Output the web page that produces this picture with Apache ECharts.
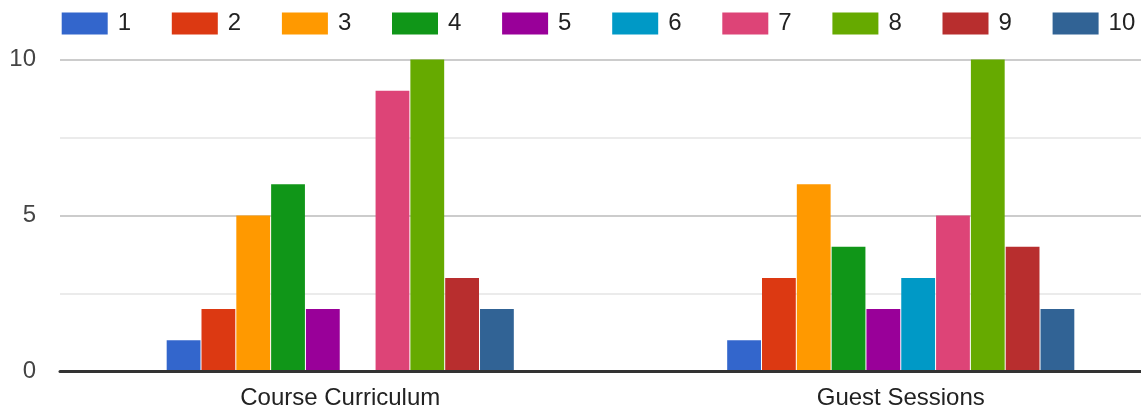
<!DOCTYPE html>
<html>
<head>
<meta charset="utf-8">
<script src="https://cdn.jsdelivr.net/npm/echarts@6/dist/echarts.min.js"></script>
<style>
html,body{margin:0;padding:0;background:#fff;}
#chart{width:1141px;height:416px;}
</style>
</head>
<body>
<div id="chart"></div>
<script>
const categories = ['Course Curriculum', 'Guest Sessions'];
const seriesNames = ['1', '2', '3', '4', '5', '6', '7', '8', '9', '10'];
const values1 = [1, 1];
const values2 = [2, 3];
const values3 = [5, 6];
const values4 = [6, 4];
const values5 = [2, 2];
const values6 = [0, 3];
const values7 = [9, 5];
const values8 = [10, 10];
const values9 = [3, 4];
const values10 = [2, 2];
const yTicks = [0, 5, 10];

const allValues = [values1, values2, values3, values4, values5, values6, values7, values8, values9, values10];
const colors = ['#3366cc', '#dc3912', '#ff9900', '#109618', '#990099', '#0099c6', '#dd4477', '#66aa00', '#b82e2e', '#316395'];
const FONT = 'Liberation Sans, Arial, sans-serif';

const chart = echarts.init(document.getElementById('chart'), null, {renderer: 'canvas'});

const legends = seriesNames.map((n, i) => ({
  data: [n],
  left: 61.7 + i * 110.1,
  top: 11.5,
  itemWidth: 46,
  itemHeight: 22,
  itemGap: 0,
  icon: 'rect',
  padding: 0,
  selectedMode: false,
  textStyle: {color: '#222', fontSize: 24, fontFamily: FONT, padding: [0, 0, 0, 5]}
}));

chart.setOption({
  animation: false,
  color: colors,
  legend: legends,
  grid: {left: 60, top: 59.5, right: -40, bottom: 44.5, containLabel: false, outerBoundsMode: 'none'},
  xAxis: {
    type: 'category',
    data: categories,
    axisLine: {show: true, lineStyle: {color: '#333', width: 3}},
    axisTick: {show: false},
    axisLabel: {color: '#222', fontSize: 24, fontFamily: FONT, margin: 15},
    z: 5
  },
  yAxis: {
    type: 'value',
    min: yTicks[0],
    max: yTicks[yTicks.length - 1],
    interval: 5,
    axisLine: {show: false},
    axisTick: {show: false},
    axisLabel: {color: '#444', fontSize: 24, fontFamily: FONT, margin: 24},
    splitLine: {show: true, lineStyle: {color: '#cccccc', width: 2}},
    minorTick: {show: false, splitNumber: 2},
    minorSplitLine: {show: true, lineStyle: {color: '#ebebeb', width: 2}}
  },
  series: seriesNames.map((n, i) => ({
    name: n,
    type: 'bar',
    data: allValues[i],
    barWidth: 33.8,
    barGap: '3%',
    itemStyle: {color: colors[i]}
  }))
});
</script>
</body>
</html>
